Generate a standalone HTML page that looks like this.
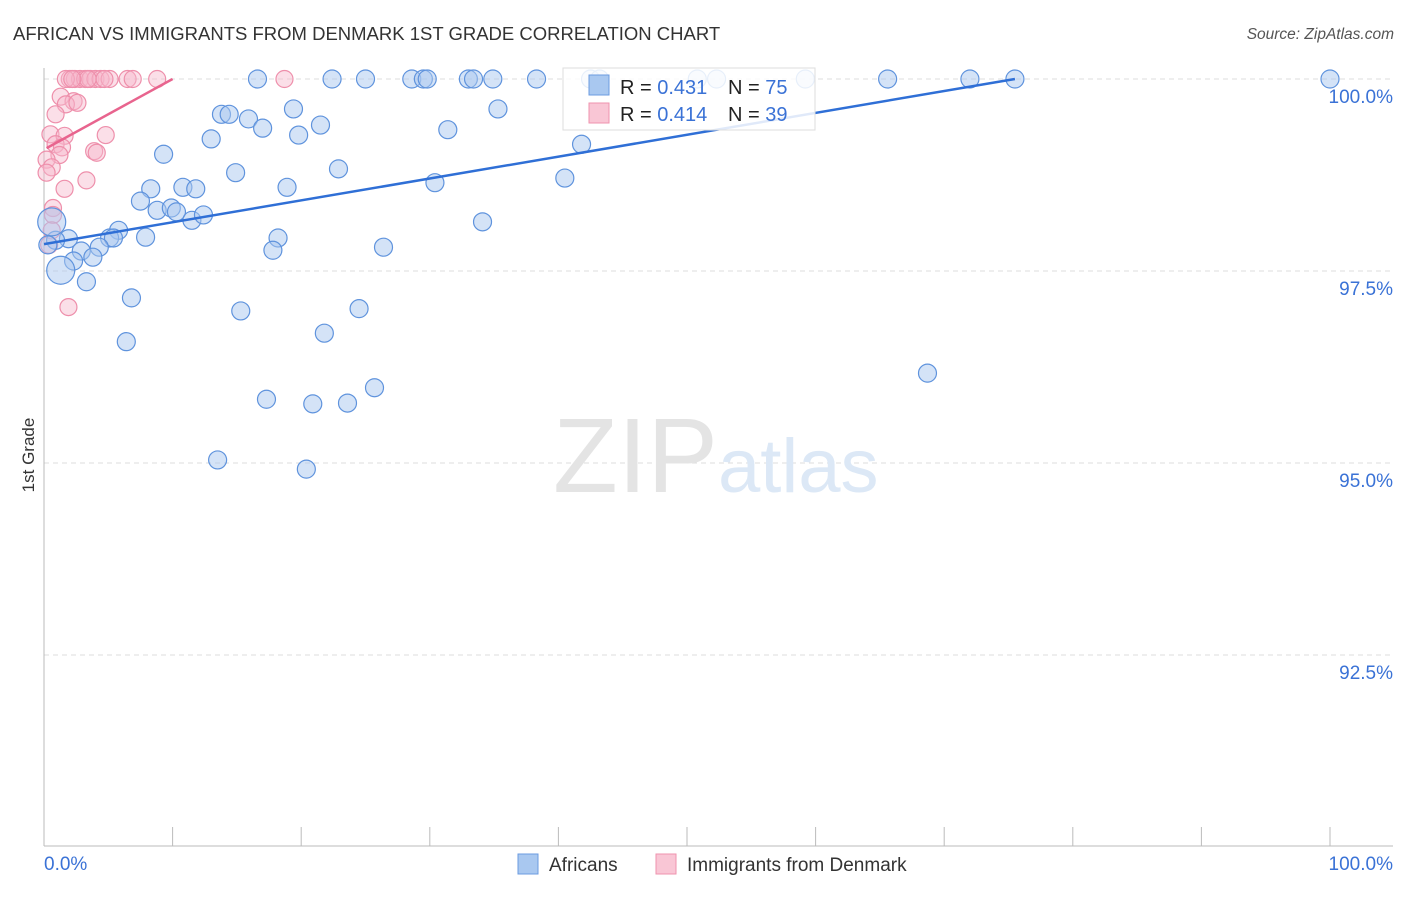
<!DOCTYPE html>
<html><head><meta charset="utf-8"><style>
body{margin:0;background:#fff;font-family:"Liberation Sans",sans-serif;}
svg text{font-family:"Liberation Sans",sans-serif;}
</style></head><body>
<svg id="chart" width="1406" height="892">
<text x="13" y="40" font-size="18.5" fill="#333">AFRICAN VS IMMIGRANTS FROM DENMARK 1ST GRADE CORRELATION CHART</text>
<text x="1394" y="39" font-size="15.5" fill="#555" font-style="italic" text-anchor="end">Source: ZipAtlas.com</text>
<text x="34" y="455" font-size="17" fill="#333" transform="rotate(-90 34 455)" text-anchor="middle">1st Grade</text>
<g id="grid"></g>
<text x="553" y="492" font-size="106" fill="#e4e4e4" font-family="Liberation Serif">ZIP</text>
<text x="718" y="492" font-size="76" fill="#dce8f6">atlas</text>
<g id="pts"></g>
<g id="lines"></g>
<g>
<rect x="563" y="68" width="252" height="62" fill="#fff" fill-opacity="0.85" stroke="#ddd"/>
<rect x="589" y="75" width="20" height="20" fill="#a9c8f0" stroke="#6b9be0"/>
<text x="620" y="94" font-size="20" fill="#222">R = <tspan fill="#3a72d6">0.431</tspan></text>
<text x="728" y="94" font-size="20" fill="#222">N = <tspan fill="#3a72d6">75</tspan></text>
<rect x="589" y="103" width="20" height="20" fill="#f9c6d5" stroke="#ef93ae"/>
<text x="620" y="121" font-size="20" fill="#222">R = <tspan fill="#3a72d6">0.414</tspan></text>
<text x="728" y="121" font-size="20" fill="#222">N = <tspan fill="#3a72d6">39</tspan></text>
</g>
<g>
<rect x="518" y="854" width="20" height="20" fill="#a9c8f0" stroke="#6b9be0"/>
<text x="549" y="871" font-size="19" fill="#333">Africans</text>
<rect x="656" y="854" width="20" height="20" fill="#f9c6d5" stroke="#ef93ae"/>
<text x="687" y="871" font-size="19" fill="#333">Immigrants from Denmark</text>
</g>
</svg>
<script>
const yTicks=[100,97.5,95,92.5];
const yTickLabels=["100.0%","97.5%","95.0%","92.5%"];
const blueX=[16.6,22.4,25.0,28.6,29.5,29.8,33.0,33.4,34.9,38.3,42.5,52.3,59.2,65.6,72.0,75.5,100,43.2,50.8,13.8,14.4,19.4,15.9,17.0,21.5,13.0,19.8,31.4,35.3,9.3,41.8,14.9,22.9,8.3,10.8,11.8,18.9,30.4,40.5,7.5,8.8,9.9,10.3,11.5,12.4,34.1,5.8,1.9,0.9,5.1,5.4,7.9,18.2,4.3,2.9,17.8,26.4,3.8,2.3,1.3,3.3,6.8,15.3,24.5,21.8,6.4,25.7,17.3,20.9,23.6,68.7,13.5,20.4,0.6,0.3];
const blueY=[100,100,100,100,100,100,100,100,100,100,100,100,100,100,100,100,100,100,100,99.54,99.54,99.61,99.48,99.36,99.40,99.22,99.27,99.34,99.61,99.02,99.15,98.78,98.83,98.57,98.59,98.57,98.59,98.65,98.71,98.41,98.29,98.32,98.27,98.16,98.23,98.14,98.03,97.92,97.90,97.93,97.93,97.94,97.93,97.81,97.76,97.77,97.81,97.68,97.63,97.51,97.36,97.15,96.98,97.01,96.69,96.58,95.98,95.83,95.77,95.78,96.17,95.04,94.92,98.14,97.84];
const blueBig=[59,73];
const pinkX=[2.0,2.4,2.8,3.2,3.6,4.0,4.4,1.7,5.1,6.5,6.9,8.8,18.7,3.4,4.7,1.3,2.3,1.7,2.6,0.9,0.5,1.6,4.8,0.9,1.4,3.9,4.1,1.2,0.2,0.6,0.2,3.3,1.6,0.7,0.7,0.4,1.9,0.6,2.2];
const pinkY=[100,100,100,100,100,100,100,100,100,100,100,100,100,100,100,99.77,99.71,99.67,99.69,99.54,99.28,99.26,99.27,99.15,99.11,99.06,99.04,99.01,98.95,98.85,98.78,98.68,98.57,98.32,98.23,97.84,97.03,98.03,100];
const blueTrend=[[0,97.85],[75.5,100]];
const pinkTrend=[[0.2,99.1],[10,100]];
const xTicks=[0,10,20,30,40,50,60,70,80,90,100];
const NS="http://www.w3.org/2000/svg";
const sx=v=>44+v*12.86, sy=v=>79+(100-v)*76.8;
function mk(t,a,p){const e=document.createElementNS(NS,t);for(const k in a)e.setAttribute(k,a[k]);p.appendChild(e);return e;}
const svg=document.getElementById('chart'),grid=document.getElementById('grid'),pts=document.getElementById('pts'),lines=document.getElementById('lines');
yTicks.forEach((v,i)=>{
 const l=mk('line',{x1:44,x2:1393,y1:sy(v),y2:sy(v),stroke:'#ddd','stroke-dasharray':'5,4'},grid);
 
 
 const t=mk('text',{x:1393,y:sy(v)+24,'font-size':19,fill:'#3a72d6','text-anchor':'end'},grid);
 t.textContent=yTickLabels[i];
 
 
});
const ax=mk('line',{x1:44,x2:44,y1:68,y2:846,stroke:'#bbb'},grid);


const bx=mk('line',{x1:44,x2:1393,y1:846,y2:846,stroke:'#bbb'},grid);


xTicks.forEach(v=>{
 const l=mk('line',{x1:sx(v),x2:sx(v),y1:827,y2:846,stroke:'#bbb'},grid);
 
 
});
const t0=mk('text',{x:44,y:870,'font-size':19,fill:'#3a72d6'},grid);t0.textContent='0.0%';


const t1=mk('text',{x:1393,y:870,'font-size':19,fill:'#3a72d6','text-anchor':'end'},grid);t1.textContent='100.0%';


pinkX.forEach((x,i)=>{
 const c=mk('circle',{cx:sx(x),cy:sy(pinkY[i]),r:8.5,fill:'#f7b8cb','fill-opacity':0.45,stroke:'#ee8fab','stroke-width':1.2},pts);
 
 
});
blueX.forEach((x,i)=>{
 const c=mk('circle',{cx:sx(x),cy:sy(blueY[i]),r:blueBig.includes(i)?14:9,fill:'#a9c8f0','fill-opacity':0.5,stroke:'#5f93dd','stroke-width':1.2},pts);
 
 
});
const bl=mk('line',{x1:sx(blueTrend[0][0]),y1:sy(blueTrend[0][1]),x2:sx(blueTrend[1][0]),y2:sy(blueTrend[1][1]),stroke:'#2f6fd6','stroke-width':2.5},lines);


const pl=mk('line',{x1:sx(pinkTrend[0][0]),y1:sy(pinkTrend[0][1]),x2:sx(pinkTrend[1][0]),y2:sy(pinkTrend[1][1]),stroke:'#e8648e','stroke-width':2.5},lines);


</script>
</body></html>
